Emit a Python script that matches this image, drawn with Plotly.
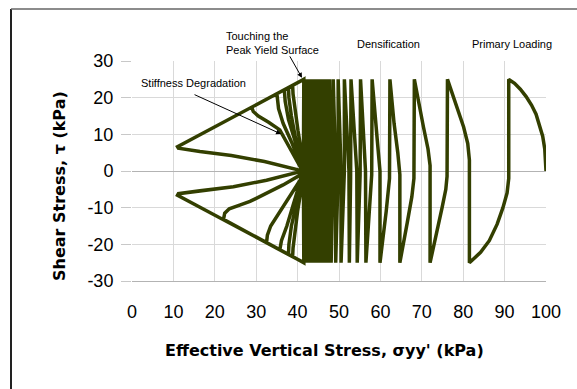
import plotly.graph_objects as go

# ---------------- data ----------------
# Primary loading: from the initial state up to the first peak
primary_sigma = [100, 99.95, 99.7, 99.2, 98.5, 97.6, 96.5, 95.2, 93.8, 92.4, 91.0]
primary_tau = [0, 2.5, 6, 9.5, 12.5, 15.5, 18, 20.3, 22.3, 23.9, 25]

# Densification: first half-cycles read point by point
dens_sigma = [
    91.0, 91.0, 90.6, 89.6, 88.2, 86.3, 84.2, 81.5,
    81.5, 81.5, 81.1, 80.1, 78.8, 77.5, 76.2,
    76.2, 76.1, 75.8, 74.9, 73.5, 72.0,
    72.0, 72.0, 71.5, 70.4, 69.3, 68.2,
    68.2, 68.1, 67.6, 66.5, 64.7,
    64.7, 64.7, 64.2, 63.3, 62.3,
    62.3, 62.2, 61.4, 59.9,
    59.9, 59.9, 59.2, 58.0,
    58.0, 57.9, 57.3, 56.5,
    56.5, 56.4, 55.9, 55.2,
    55.2, 55.1, 54.8, 54.4,
    54.4, 54.3, 53.6, 52.9,
    52.9, 52.8, 52.5,
    52.5, 52.4, 51.3,
]
dens_tau = [
    25, -2, -6, -10, -14.5, -19, -22.2, -25,
    -25, 3, 7.5, 12, 16.5, 20.5, 25,
    25, -1.5, -5, -10, -17, -25,
    -25, 1.5, 6, 12, 18.5, 25,
    25, -2, -7, -14, -25,
    -25, -1, 5, 13, 25,
    25, -2, -11, -25,
    -25, 0, 9, 25,
    25, -1, -10, -25,
    -25, 0, 10, 25,
    25, -1, -10, -25,
    -25, 0, 11, 25,
    25, -2, -25,
    -25, 0, 25,
]

# Later densification cycles: stress reversals (alternating +25 / -25 shear)
reversal_sigma = [51.3, 50.5, 49.8, 49.2, 48.6, 48.1, 47.7, 47.3, 46.9, 46.5,
                  46.2, 45.9, 45.6, 45.3, 45.0, 44.8, 44.5, 44.3, 44.1, 43.9,
                  43.7, 43.5, 43.3, 43.1, 42.9, 42.8, 42.6, 42.5, 42.3, 42.2,
                  42.1, 42.0, 41.9, 41.8, 41.7, 41.6, 41.5]
reversal_tau_amp = 25

# Stiffness degradation loops (point lists)
degr_sigma = [
    [41.5, 41.4, 41.0, 40.0, 39.3, 38.9, 38.8, 41.5],
    [41.5, 41.4, 41.1, 40.1, 39.3, 38.9, 38.8, 41.5],
    [41.5, 41.4, 40.8, 39.5, 38.5, 37.9, 37.8, 41.5],
    [41.5, 41.4, 40.8, 39.5, 38.5, 37.9, 37.8, 41.5],
    [41.5, 41.4, 40.6, 39.2, 37.4, 36.1, 35.7, 41.5],
    [41.5, 41.4, 40.8, 39.5, 37.8, 37.0, 36.8, 41.5],
    [41.5, 41.4, 40.6, 38.0, 35.5, 33.5, 32.7, 32.5, 41.5],
    [41.5, 41.4, 40.6, 38.5, 36.5, 35.4, 35.0, 41.5],
    [41.5, 41.4, 40.6, 36.5, 32.5, 28.5, 26.0, 23.5, 22.4, 22.1, 41.5],
    [41.5, 41.4, 40.6, 38.5, 35.7, 33.0, 30.5, 29.3, 28.9, 41.5],
    [41.5, 41.4, 40.6, 32.5, 24.5, 16.4, 12.5, 11.2, 11.0, 41.5],
    [41.5, 41.4, 40.6, 32.0, 24.0, 16.4, 12.5, 11.2, 11.0, 41.5],
    [41.5, 41.4, 40.6, 32.5, 24.5, 16.4, 12.5, 11.2, 11.0, 41.5],
    [41.5, 41.4, 40.6, 32.0, 24.0, 16.4, 12.5, 11.2, 11.0, 41.5],
]
degr_tau = [
    [25, 0, -4, -11, -17, -21, -23.3, -25],
    [-25, 0, 4, 11, 17, 21, 23.3, 25],
    [25, 0, -4, -10, -15, -20, -22.7, -25],
    [-25, 0, 3, 9, 15, 20, 22.7, 25],
    [25, 0, -3, -9, -15, -19, -21.5, -25],
    [-25, 0, 3, 8, 14, 19, 22.1, 25],
    [25, 0, -2.5, -7, -11.5, -15, -17.5, -19.6, -25],
    [-25, 0, 2, 8, 13, 17, 21.1, 25],
    [25, 0, -1.1, -3.8, -6.1, -8.3, -9.3, -10.3, -11.5, -13.2, -25],
    [-25, 0, 1.2, 5.5, 11.2, 13.3, 15.0, 16.2, 17.4, 25],
    [25, 0.5, -0.2, -2.5, -4.3, -5.4, -5.9, -6.2, -6.6, -25],
    [-25, -0.5, 0.2, 2.6, 4.2, 5.3, 5.9, 6.2, 6.6, 25],
    [25, 0.5, -0.2, -2.5, -4.3, -5.4, -5.9, -6.2, -6.6, -25],
    [-25, -0.5, 0.2, 2.6, 4.2, 5.3, 5.9, 6.2, 6.6, 25],
]

x_tick_vals = [0, 10, 20, 30, 40, 50, 60, 70, 80, 90, 100]
y_tick_vals = [-30, -20, -10, 0, 10, 20, 30]
y_tick_text = ["-30", "-20", "-10", "0", "10", "20", "30"]

LINE_COLOR = "#333f00"

# ---------------- assemble the stress path ----------------
sigma = list(primary_sigma) + list(dens_sigma)
tau = list(primary_tau) + list(dens_tau)
sign = 1
for i in range(len(reversal_sigma) - 1):
    s0, s1 = reversal_sigma[i], reversal_sigma[i + 1]
    sigma += [s0, s0, s1]
    tau += [sign * reversal_tau_amp, 0, -sign * reversal_tau_amp]
    sign = -sign
for s_list, t_list in zip(degr_sigma, degr_tau):
    sigma += s_list
    tau += t_list

fig = go.Figure()
fig.add_trace(go.Scatter(x=sigma, y=tau, mode="lines",
                         line=dict(color=LINE_COLOR, width=3.5),
                         showlegend=False, hoverinfo="skip"))

# plot area: x 132..546 px, y 61..281 px
L, R, T, B = 132, 546, 61, 281
W, H = 577, 389


def px(xp):
    return (xp - L) / (R - L)


def py(yp):
    return (B - yp) / (B - T)


fig.update_layout(
    width=W, height=H,
    margin=dict(l=L, r=W - R, t=T, b=H - B, pad=0),
    paper_bgcolor="white", plot_bgcolor="white",
    font=dict(family="Liberation Sans, Arial, sans-serif", color="black"),
    xaxis=dict(range=[0, 100], tickvals=x_tick_vals, showgrid=True,
               gridcolor="#d9d9d9", gridwidth=1, zeroline=False,
               showline=True, linecolor="#b3b3b3", linewidth=1, mirror=False,
               ticks="", tickfont=dict(size=18), ticklabelstandoff=14),
    yaxis=dict(range=[-30, 30], tickvals=y_tick_vals, ticktext=y_tick_text,
               showgrid=True, gridcolor="#d9d9d9", gridwidth=1,
               zeroline=True, zerolinecolor="#b3b3b3", zerolinewidth=1,
               showline=False, ticks="outside", ticklen=10,
               tickcolor="#c8c8c8", tickwidth=1,
               tickfont=dict(size=18), ticklabelstandoff=4),
)

annos = [
    dict(x=px(324), y=py(350), text="Effective Vertical Stress, σyy' (kPa)",
         font=dict(family="DejaVu Sans", size=16, color="black"),
         xanchor="center", yanchor="middle"),
    dict(x=px(59), y=py(186), text="Shear Stress, τ (kPa)", textangle=-90,
         font=dict(family="DejaVu Sans", size=16, color="black"),
         xanchor="center", yanchor="middle"),
    dict(x=px(224), y=py(43), text="Touching the<br>Peak Yield Surface",
         align="left", xanchor="left", yanchor="middle",
         font=dict(size=11)),
    dict(x=px(193), y=py(83), text="Stiffness Degradation",
         xanchor="center", yanchor="middle", font=dict(size=11)),
    dict(x=px(388), y=py(44), text="Densification",
         xanchor="center", yanchor="middle", font=dict(size=11)),
    dict(x=px(512), y=py(44), text="Primary Loading",
         xanchor="center", yanchor="middle", font=dict(size=11)),
]
for a in annos:
    a.update(xref="paper", yref="paper", showarrow=False)
annos[0]["text"] = "<b>" + annos[0]["text"] + "</b>"
annos[1]["text"] = "<b>" + annos[1]["text"] + "</b>"

# arrows (heads at data points, tails offset in pixels)
annos.append(dict(x=41.06, y=25.4, xref="x", yref="y", text="", showarrow=True,
                  ax=-13, ay=-23, arrowhead=2, arrowsize=1, arrowwidth=1,
                  arrowcolor="black"))
annos.append(dict(x=36.0, y=10.1, xref="x", yref="y", text="", showarrow=True,
                  ax=-88, ay=-40, arrowhead=2, arrowsize=1, arrowwidth=1,
                  arrowcolor="black"))
fig.update_layout(annotations=annos)

# outer frame (only left and top edges are visible in the reference)
fig.add_shape(type="line", xref="paper", yref="paper",
              x0=px(11), x1=px(11), y0=py(9), y1=py(H + 5),
              line=dict(color="#222222", width=2))
fig.add_shape(type="line", xref="paper", yref="paper",
              x0=px(11), x1=px(W + 5), y0=py(9), y1=py(9),
              line=dict(color="#666666", width=1.5))

fig.write_html("out.html")
